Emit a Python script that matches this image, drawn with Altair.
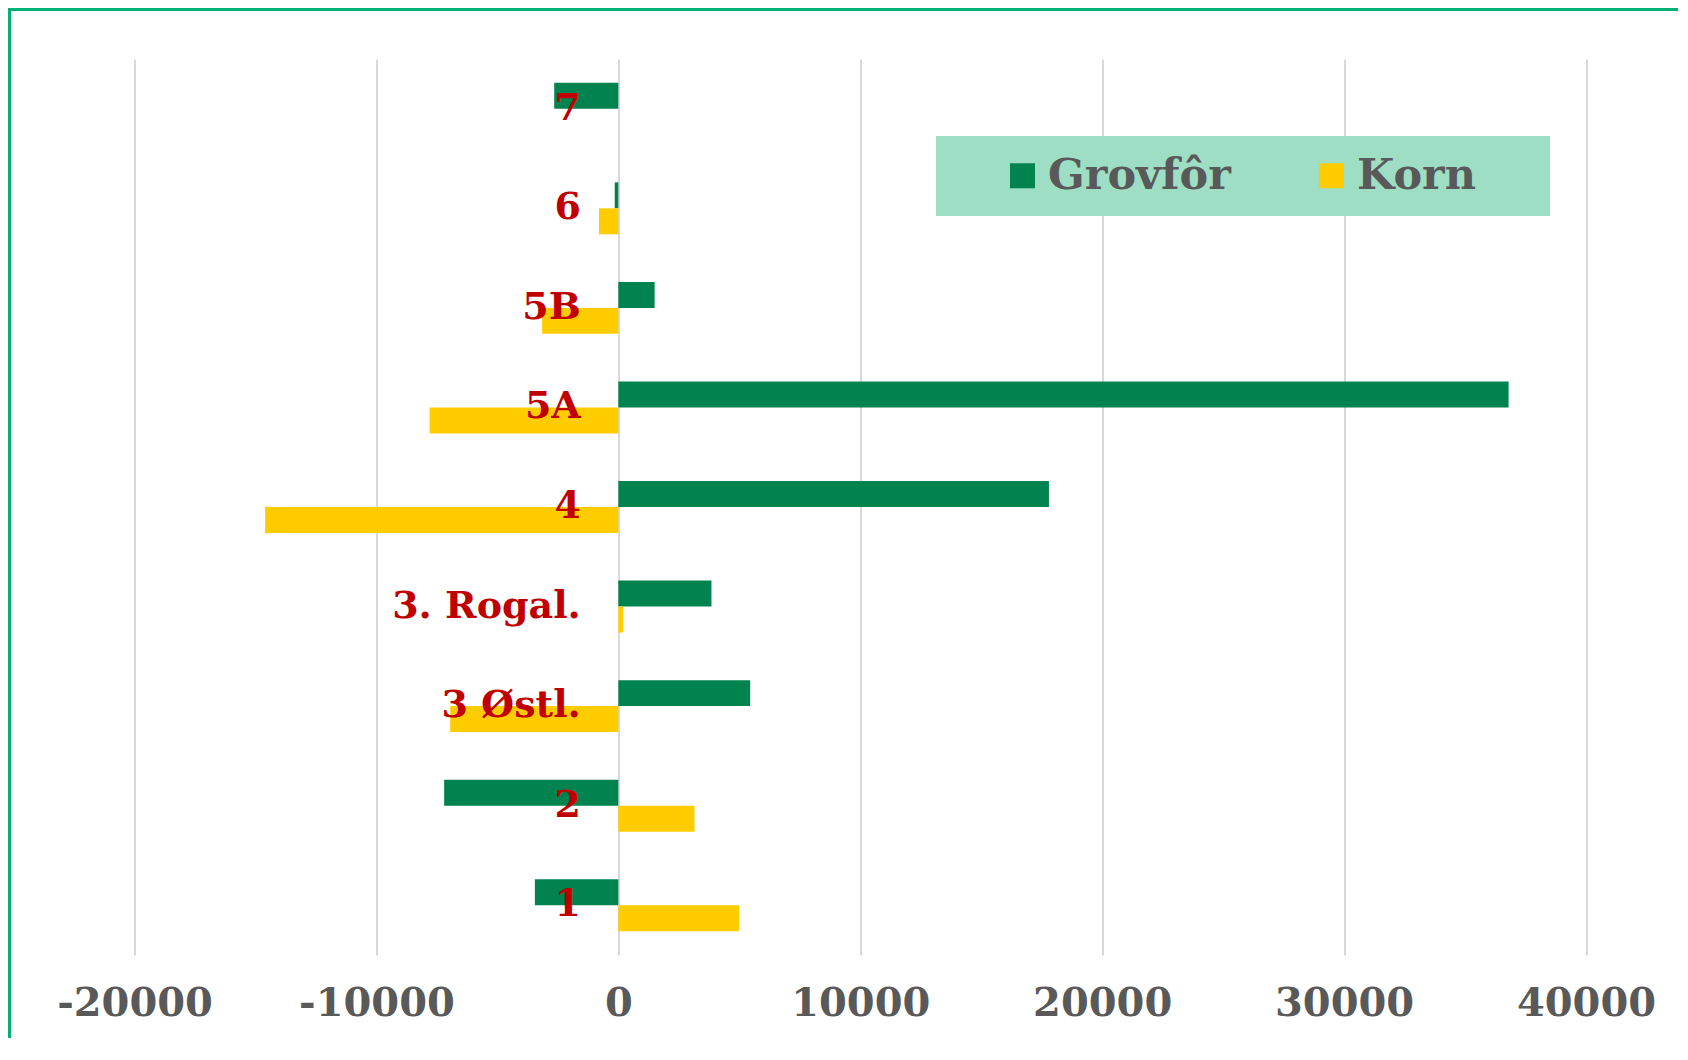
import altair as alt
import pandas as pd

# ---- data ----
categories = ["1", "2", "3 Østl.", "3. Rogal.", "4", "5A", "5B", "6", "7"]
grovfor = [-3450, -7200, 5450, 3850, 17800, 36800, 1500, -150, -2650]
korn = [5000, 3150, -6950, 200, -14600, -7800, -3150, -800, 0]
series = ["Grovfôr", "Korn"]
colors = ["#00834F", "#FFCC00"]
x_ticks = [-20000, -10000, 0, 10000, 20000, 30000, 40000]

rows = []
for c, g, k in zip(categories, grovfor, korn):
    rows.append({"region": c, "serie": series[0], "verdi": g})
    rows.append({"region": c, "serie": series[1], "verdi": k})
df = pd.DataFrame(rows)
labels_df = pd.DataFrame({"region": categories, "nullpunkt": [0] * len(categories)})

order = list(reversed(categories))
W, H = 1451.5, 896
PAD = {"left": 126.5, "top": 51, "right": 92, "bottom": 83}
FONT = "DejaVu Serif"

y_enc = alt.Y(
    "region:N",
    sort=order,
    scale=alt.Scale(paddingInner=0.478, paddingOuter=0.239),
    axis=None,
)

bars = alt.Chart(df).mark_bar().encode(
    x=alt.X(
        "verdi:Q",
        scale=alt.Scale(domain=[-20000, 40000], nice=False),
        axis=alt.Axis(
            values=x_ticks,
            title=None,
            grid=True,
            gridColor="#D9D9D9",
            gridWidth=2,
            domain=False,
            ticks=False,
            tickSize=0,
            labelFont=FONT,
            labelFontWeight="bold",
            labelFontSize=40,
            labelColor="#595959",
            labelPadding=28,
            labelFlush=False,
            labelExpr="datum.value + ''",
        ),
    ),
    y=y_enc,
    yOffset=alt.YOffset("serie:N", sort=series, scale=alt.Scale(paddingInner=0, paddingOuter=0)),
    color=alt.Color(
        "serie:N",
        sort=series,
        scale=alt.Scale(domain=series, range=colors),
        legend=alt.Legend(
            title="\u00a0",
            titleOrient="right",
            titlePadding=56,
            titleFontSize=43,
            titleFont=FONT,
            orient="none",
            legendX=801.5,
            legendY=77,
            direction="horizontal",
            columns=2,
            gridAlign="all",
            fillColor="#9DDEC5",
            padding=18,
            symbolType="square",
            symbolSize=625,
            symbolStrokeWidth=0,
            symbolOffset=47,
            labelOffset=4,
            columnPadding=32,
            labelLimit=600,
            labelFont=FONT,
            labelFontWeight="bold",
            labelFontSize=43,
            labelColor="#595959",
        ),
    ),
)

labels = alt.Chart(labels_df).mark_text(
    align="right",
    baseline="middle",
    dx=-37.5,
    font=FONT,
    fontWeight="bold",
    fontSize=38,
    color="#C00000",
).encode(
    x=alt.X("nullpunkt:Q", title=None),
    y=alt.Y("region:N", sort=order),
    text="region:N",
)

frame_df = pd.DataFrame({"k": [0]})
left_rule = alt.Chart(frame_df).mark_rule(color="#00B074", strokeWidth=3).encode(
    x=alt.value(-125), y=alt.value(-51), y2=alt.value(H + 83)
)
top_rule = alt.Chart(frame_df).mark_rule(color="#00B074", strokeWidth=3).encode(
    y=alt.value(-49.5), x=alt.value(-126.5), x2=alt.value(W + 92)
)

chart = (
    alt.layer(bars, labels, left_rule, top_rule)
    .properties(width=W, height=H, padding=PAD, autosize=alt.AutoSizeParams(type="none"))
    .configure(background="white")
    .configure_view(stroke=None)
)

chart.save("out.html", embed_options={"renderer": "svg", "actions": False})
